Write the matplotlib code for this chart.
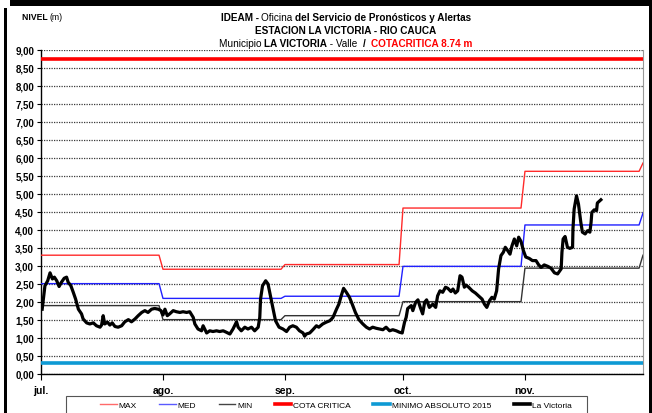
import matplotlib
matplotlib.use("Agg")
import matplotlib.pyplot as plt
from matplotlib.lines import Line2D
from matplotlib.patches import Rectangle
from matplotlib.ticker import FuncFormatter
from matplotlib.offsetbox import TextArea, HPacker, AnchoredOffsetbox
import numpy as np

FONT = ['Liberation Sans Narrow', 'Liberation Sans', 'DejaVu Sans']
plt.rcParams['font.family'] = FONT

# month axis (days counted from 1 July)
month_start = [0, 31, 62, 92, 123, 153]
month_labels = ['jul.', 'ago.', 'sep.', 'oct.', 'nov.']

# monthly reference levels jul..dic
nivel_max = [3.30, 2.91, 3.04, 4.61, 5.63, 5.86]
nivel_med = [2.51, 2.10, 2.16, 2.99, 4.14, 4.47]
nivel_min = [1.90, 1.51, 1.62, 2.01, 2.94, 3.30]
cota_critica = 8.74
minimo_absoluto = 0.30

# observed level at La Victoria
dias = [0.3, 1.0, 1.7, 2.3, 2.9, 3.4, 4.0, 4.6, 5.2, 5.9, 6.5, 6.9, 7.6, 8.2, 8.8,
        9.5, 10.3, 10.7, 11.6, 12.4, 13.3, 14.1, 15.0, 15.4, 15.8, 16.2, 16.9, 17.5,
        18.1, 18.8, 19.6, 20.5, 21.3, 22.2, 23.0, 23.9, 24.7, 25.6, 26.4, 27.2, 28.1,
        28.9, 29.8, 30.5, 31.0, 31.5, 32.1, 32.7, 33.6, 34.4, 35.3, 36.1, 37.0, 37.8,
        38.7, 39.1, 39.9, 40.8, 41.2, 42.1, 42.9, 43.7, 44.6, 45.4, 46.3, 47.1, 48.0,
        48.8, 49.7, 50.1, 50.9, 51.8, 52.6, 53.5, 54.3, 55.2, 55.6, 55.8, 56.3, 57.1,
        57.7, 58.3, 59.0, 59.6, 60.5, 61.5, 62.4, 63.2, 64.0, 64.9, 65.7, 66.6, 67.0,
        67.4, 68.3, 69.1, 70.0, 70.6, 71.6, 72.5, 73.4, 74.2, 75.1, 75.7, 76.3, 76.9,
        77.6, 78.4, 79.1, 79.9, 80.8, 81.8, 82.7, 83.5, 84.3, 85.2, 86.0, 86.9, 87.7,
        88.6, 89.4, 90.3, 91.1, 91.8, 92.4, 92.8, 93.2, 94.1, 94.5, 95.2, 95.8, 96.4,
        97.0, 97.5, 98.0, 98.7, 99.6, 100.3, 100.8, 101.4, 102.1, 102.8, 103.4, 104.2,
        104.7, 105.3, 105.9, 106.5, 107.0, 107.6, 108.0, 108.7, 109.6, 110.4, 111.2,
        112.1, 112.7, 113.3, 114.0, 114.6, 115.2, 115.8, 116.3, 116.9, 117.5, 118.0,
        118.6, 119.2, 119.7, 120.3, 120.9, 121.4, 122.0, 122.6, 123.2, 124.1, 124.9,
        125.8, 126.5, 127.1, 127.9, 128.8, 129.6, 130.5, 131.3, 132.2, 132.4, 132.7,
        133.2, 133.8, 134.4, 135.1, 135.2, 135.5, 136.1, 136.6, 137.2, 137.6, 138.3,
        138.9, 139.5, 139.8, 140.0, 140.6, 141.2, 141.4, 142.3]
nivel = [1.80, 2.45, 2.59, 2.81, 2.64, 2.69, 2.59, 2.43, 2.55, 2.66, 2.69, 2.55, 2.45,
         2.27, 2.08, 1.80, 1.67, 1.53, 1.42, 1.39, 1.42, 1.34, 1.30, 1.36, 1.62, 1.39,
         1.44, 1.36, 1.42, 1.32, 1.30, 1.34, 1.45, 1.51, 1.45, 1.53, 1.62, 1.71, 1.76,
         1.71, 1.80, 1.82, 1.80, 1.76, 1.64, 1.80, 1.62, 1.67, 1.76, 1.73, 1.71, 1.73,
         1.71, 1.73, 1.57, 1.39, 1.25, 1.20, 1.34, 1.14, 1.20, 1.18, 1.20, 1.18, 1.20,
         1.16, 1.11, 1.25, 1.45, 1.30, 1.20, 1.30, 1.25, 1.30, 1.20, 1.30, 1.57, 2.08,
         2.45, 2.59, 2.50, 2.17, 1.80, 1.48, 1.30, 1.25, 1.18, 1.30, 1.34, 1.30, 1.20,
         1.14, 1.05, 1.11, 1.14, 1.23, 1.34, 1.30, 1.39, 1.44, 1.48, 1.57, 1.80, 1.94,
         2.17, 2.38, 2.27, 2.13, 1.94, 1.71, 1.51, 1.39, 1.30, 1.25, 1.30, 1.27, 1.25,
         1.23, 1.30, 1.20, 1.23, 1.20, 1.16, 1.14, 1.44, 1.57, 1.82, 1.90, 1.76, 1.99,
         2.06, 1.85, 1.67, 1.99, 2.06, 1.85, 1.94, 1.85, 2.17, 2.31, 2.27, 2.41, 2.38,
         2.29, 2.36, 2.25, 2.31, 2.73, 2.69, 2.41, 2.47, 2.41, 2.31, 2.25, 2.17, 2.08,
         1.94, 1.85, 2.04, 2.13, 2.08, 2.31, 2.92, 3.29, 3.38, 3.52, 3.43, 3.33, 3.56,
         3.75, 3.56, 3.80, 3.68, 3.43, 3.25, 3.21, 3.15, 3.15, 3.03, 2.96, 3.03, 2.99,
         2.94, 2.81, 2.78, 2.92, 3.38, 3.75, 3.82, 3.52, 3.49, 3.52, 4.03, 4.58, 4.95,
         4.72, 4.21, 3.94, 3.89, 3.98, 3.94, 4.21, 4.49, 4.56, 4.54, 4.75, 4.84]


def steps(levels):
    # constant within each month, one-day ramp into the next month
    xs, ys = [], []
    for i, v in enumerate(levels[:-1]):
        xs += [month_start[i], month_start[i + 1] - 1]
        ys += [v, v]
    xs.append(month_start[-1])
    ys.append(levels[-1])
    return xs, ys


W, H = 652, 414
fig = plt.figure(figsize=(W / 100, H / 100), dpi=100)
ax = fig.add_axes([41 / W, 1 - 375 / H, (643 - 41) / W, (375 - 51) / H])

x0, x1 = month_start[0], month_start[-1]
ax.plot(*steps(nivel_max), color='#ff2a2a', lw=1.0, zorder=3)
ax.plot(*steps(nivel_med), color='#2020ff', lw=1.0, zorder=3)
ax.plot(*steps(nivel_min), color='#333333', lw=1.0, zorder=3)
ax.plot([x0, x1], [cota_critica] * 2, color='#ff0000', lw=2.6, zorder=3)
ax.plot([x0, x1], [minimo_absoluto] * 2, color='#0e9ad4', lw=2.6, zorder=3)
ax.plot(dias, nivel, color='black', lw=2.3, zorder=4, solid_joinstyle='round')

ax.set_xlim(x0, x1)
ax.set_ylim(0, 9)
ax.set_yticks(np.arange(0, 9.01, 0.5))
ax.yaxis.set_major_formatter(FuncFormatter(lambda v, p: f"{v:.2f}".replace('.', ',')))
ax.set_xticks(month_start[:-1])
ax.set_xticklabels(month_labels)
ax.tick_params(axis='y', length=3, width=0.8, pad=2, labelsize=7)
ax.tick_params(axis='x', length=4, width=0.8, pad=4, labelsize=7.5)
for lab in ax.get_xticklabels() + ax.get_yticklabels():
    lab.set_fontweight('bold')

ax.yaxis.grid(True, linestyle=(0, (1, 1)), color='#3a3a3a', lw=0.9)
ax.set_axisbelow(True)
ax.spines['top'].set_visible(False)
ax.spines['right'].set_color('#9a9a9a')
ax.spines['left'].set_linewidth(1.0)
ax.spines['bottom'].set_linewidth(1.0)


def rich(parts, x, y, loc='center', size=7.2):
    boxes = [TextArea(t, textprops=dict(fontsize=size, fontweight=w, color=c, family=FONT))
             for t, w, c in parts]
    pack = HPacker(children=boxes, align='baseline', pad=0, sep=0)
    box = AnchoredOffsetbox(loc=loc, child=pack, frameon=False, pad=0, borderpad=0,
                            bbox_to_anchor=(x / W, 1 - y / H), bbox_transform=fig.transFigure)
    fig.add_artist(box)


rich([('IDEAM - ', 'bold', 'black'), ('Oficina ', 'normal', 'black'),
      ('del Servicio de Pronósticos y Alertas', 'bold', 'black')], 346, 18)
rich([('ESTACION LA VICTORIA - RIO CAUCA', 'bold', 'black')], 346, 31)
rich([('Municipio ', 'normal', 'black'), ('LA VICTORIA', 'bold', 'black'),
      (' - Valle  ', 'normal', 'black'), ('/  ', 'bold', 'black'),
      ('COTACRITICA 8.74 m', 'bold', '#ff0000')], 346, 44)
rich([('NIVEL ', 'bold', 'black'), ('(m)', 'normal', 'black')], 22, 18, loc='center left', size=6.2)

handles = [Line2D([], [], color='#ff6a6a', lw=1.0),
           Line2D([], [], color='#5a5aff', lw=1.0),
           Line2D([], [], color='#444444', lw=1.0),
           Line2D([], [], color='#ff0000', lw=2.6),
           Line2D([], [], color='#0e9ad4', lw=2.6),
           Line2D([], [], color='black', lw=2.6)]
labels = ['MAX', 'MED', 'MIN', 'COTA CRITICA', 'MINIMO ABSOLUTO 2015', 'La Victoria']
leg = fig.legend(handles, labels, loc='center', bbox_to_anchor=(336 / W, 1 - 406 / H),
                 ncol=6, fontsize=6, frameon=False, handlelength=2.0,
                 handletextpad=0.2, columnspacing=2.7, borderpad=0.2)

# legend box, wider than its entries as in the original sheet
fig.add_artist(Rectangle((66 / W, -4 / H), (587 - 66) / W, (4 + 414 - 397) / H,
                         transform=fig.transFigure, fill=False, edgecolor='#555555', lw=0.8))

# page frame around the chart
for (px, py, pw, ph) in [(10, 0, 642, 7), (4, 9, 3, 405), (649, 0, 3, 414)]:
    fig.add_artist(Rectangle((px / W, 1 - (py + ph) / H), pw / W, ph / H,
                             transform=fig.transFigure, color='black', lw=0))

fig.savefig('out.png', dpi=100)
